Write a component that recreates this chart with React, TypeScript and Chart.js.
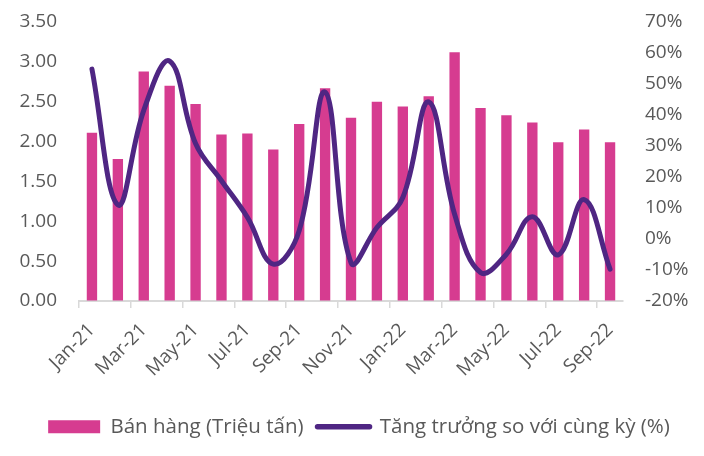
import React, { useEffect, useRef } from "react";
import { Chart, registerables } from "chart.js";

Chart.register(...registerables);

const categories = [
  "Jan-21", "Feb-21", "Mar-21", "Apr-21", "May-21", "Jun-21", "Jul-21", "Aug-21", "Sep-21", "Oct-21", "Nov-21", "Dec-21",
  "Jan-22", "Feb-22", "Mar-22", "Apr-22", "May-22", "Jun-22", "Jul-22", "Aug-22", "Sep-22",
];
const sales = [2.11, 1.78, 2.88, 2.7, 2.47, 2.09, 2.1, 1.9, 2.22, 2.67, 2.3, 2.5, 2.44, 2.57, 3.12, 2.42, 2.33, 2.24, 1.99, 2.15, 1.99];
const growth = [54.8, 11, 41.5, 57.4, 30.8, 18.8, 7, -8.1, 2.7, 47.4, -7.6, 3.7, 13.4, 44.2, 8, -10.8, -4.9, 7.2, -5.1, 12.7, -9.7];
const salesLabel = "Bán hàng (Triệu tấn)";
const growthLabel = "Tăng trưởng so với cùng kỳ (%)";

const PINK = "#D63C90";
const PURPLE = "#4F2683";
const TEXT = "#595959";
const FONT = "'Open Sans', sans-serif";

export default function App() {
  const ref = useRef<HTMLCanvasElement>(null);
  useEffect(() => {
    if (!ref.current) return;
    const chart = new Chart(ref.current, {
      type: "bar",
      data: {
        labels: categories,
        datasets: [
          {
            type: "line",
            label: growthLabel,
            data: growth,
            yAxisID: "y1",
            borderColor: PURPLE,
            backgroundColor: PURPLE,
            borderWidth: 5,
            tension: 0.4,
            pointRadius: 0,
            borderCapStyle: "round",
            borderJoinStyle: "round",
          } as any,
          {
            type: "bar",
            label: salesLabel,
            data: sales,
            yAxisID: "y",
            backgroundColor: PINK,
            barPercentage: 0.4,
            categoryPercentage: 1,
          },
        ],
      },
      options: {
        responsive: false,
        animation: false,
        layout: { padding: { top: 22, bottom: 9, left: 14, right: 0 } },
        plugins: {
          tooltip: { enabled: false },
          legend: {
            position: "bottom",
            labels: {
              usePointStyle: true,
              pointStyleWidth: 52,
              boxHeight: 13,
              padding: 14,
              color: TEXT,
              font: { family: FONT, size: 20.5 },
              generateLabels: () => [
                {
                  text: salesLabel,
                  fillStyle: PINK,
                  strokeStyle: PINK,
                  lineWidth: 0,
                  pointStyle: "rect",
                  hidden: false,
                  datasetIndex: 1,
                  fontColor: TEXT,
                } as any,
                {
                  text: growthLabel,
                  fillStyle: PURPLE,
                  strokeStyle: PURPLE,
                  lineWidth: 5.5,
                  lineCap: "round",
                  pointStyle: "line",
                  hidden: false,
                  datasetIndex: 0,
                  fontColor: TEXT,
                } as any,
              ],
            },
          },
        },
        scales: {
          x: {
            offset: true,
            afterFit: (s: any) => {
              s.height = 101.5;
            },
            grid: {
              offset: true,
              drawOnChartArea: false,
              drawTicks: true,
              tickLength: 7,
              lineWidth: 1.5,
              color: (c: any) => (c.index !== undefined && c.index % 2 === 0 ? "#D9D9D9" : "rgba(0,0,0,0)"),
            },
            border: { display: true, color: "#D9D9D9", width: 2 },
            ticks: {
              autoSkip: false,
              minRotation: 45,
              maxRotation: 45,
              padding: 11,
              color: TEXT,
              font: { family: FONT, size: 19 },
              callback: (_v: any, i: number) => (i % 2 === 0 ? categories[i] : ""),
            },
          },
          y: {
            position: "left",
            min: 0,
            max: 3.5,
            afterFit: (s: any) => {
              s.width = 65;
            },
            grid: { display: true, drawOnChartArea: false, drawTicks: true, tickLength: 22, color: "rgba(0,0,0,0)" },
            border: { display: false },
            ticks: {
              stepSize: 0.5,
              padding: 0,
              color: TEXT,
              font: { family: FONT, size: 19 },
              callback: (v: any) => Number(v).toFixed(2),
            },
          },
          y1: {
            position: "right",
            min: -20,
            max: 70,
            afterFit: (s: any) => {
              s.width = 81;
            },
            grid: { display: true, drawOnChartArea: false, drawTicks: true, tickLength: 22, color: "rgba(0,0,0,0)" },
            border: { display: false },
            ticks: {
              stepSize: 10,
              padding: 0,
              color: TEXT,
              font: { family: FONT, size: 19 },
              callback: (v: any) => `${Math.round(Number(v))}%`,
            },
          },
        },
      },
    });
    return () => chart.destroy();
  }, []);
  return (
    <div style={{ position: "absolute", left: 0, top: 0, width: 704, height: 456, background: "#fff" }}>
      <canvas ref={ref} width={704} height={456} />
    </div>
  );
}
